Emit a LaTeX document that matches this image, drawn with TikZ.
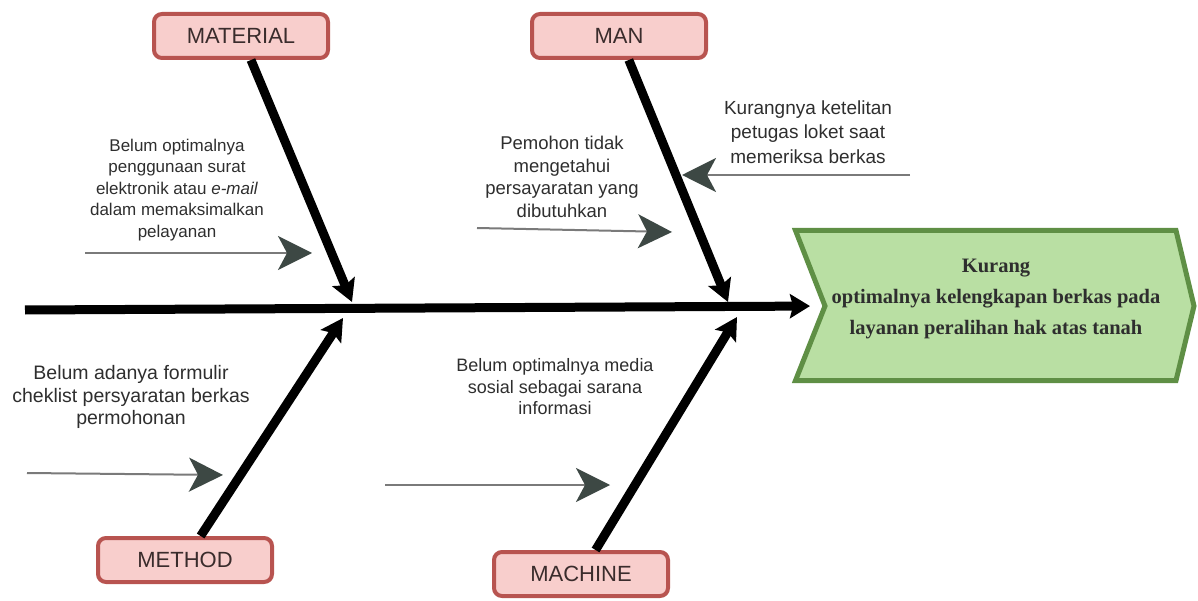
\documentclass[tikz,border=0pt]{standalone}
\usepackage{fontspec}
\setmainfont{Liberation Sans}
\newfontfamily\effectfont{Liberation Serif}
\usepackage{tikz}
\usetikzlibrary{arrows.meta,positioning}
\definecolor{ink}{HTML}{2E2E2E}
\definecolor{catink}{HTML}{3A2C2C}
\definecolor{catfill}{HTML}{F8CECC}
\definecolor{catdraw}{HTML}{B85450}
\definecolor{efffill}{HTML}{B9DFA3}
\definecolor{effdraw}{HTML}{5F8F45}
\definecolor{headc}{HTML}{3D4844}
\definecolor{tailc}{HTML}{7A7A7A}
\tikzset{
  cat/.style={draw=catdraw,fill=catfill,rounded corners=8pt,line width=4pt,
    minimum width=174pt,minimum height=44pt,text=catink,
    font=\fontsize{22}{26}\selectfont},
  note/.style={align=center,text=ink,font=\fontsize{18.5}{22.5}\selectfont},
  effbox/.style={draw=effdraw,fill=efffill,line width=5pt,line join=miter},
  efftxt/.style={align=center,text=ink,font=\effectfont\bfseries\fontsize{20.5}{31}\selectfont},
  spine/.style={line width=9pt,-{Stealth[length=20pt,width=24pt,inset=3pt]}},
  bone/.style={line width=9pt,-{Stealth[length=22pt,width=24pt,inset=4pt]}},
  cause/.style={line width=2pt,draw=tailc,-{Stealth[length=34pt,width=34pt,inset=9pt,color=headc]}}
}
\begin{document}
\begin{tikzpicture}[x=1pt,y=-1pt]
  \useasboundingbox (0,0) rectangle (1198,601);
  % effect head
  \coordinate (notch) at (825,306);
  \draw[effbox] (795.5,230.5) -- (1176,230.5) -- (1194,306) -- (1176,380.5)
    -- (795.5,380.5) -- (notch) -- cycle;
  \node[efftxt] (eff) at (996,299) {Kurang\\optimalnya kelengkapan berkas pada\\layanan peralihan hak atas tanah};
  % spine
  \coordinate (tail) at (25,310);
  \draw[spine,shorten >=15pt] (tail) -- (notch);
  % categories
  \node[cat] (mat)  at (241,36)  {MATERIAL};
  \node[cat] (man)  at (619,36)  {MAN};
  \node[cat] (meth) at (185,560) {METHOD};
  \node[cat] (mach) at (581,574) {MACHINE};
  \coordinate (matTip)  at (352,302);
  \coordinate (manTip)  at (728,302);
  \coordinate (methTip) at (343,318);
  \coordinate (machTip) at (737,317);
  \foreach \a/\b in {mat/matTip,man/manTip,meth/methTip,mach/machTip}{%
    \draw[bone] (\a) -- (\b);}
  % causes
  \node[note,font=\fontsize{17}{21.5}\selectfont] (nmat) at (177,190)
    {Belum optimalnya\\penggunaan surat\\elektronik atau \textit{e-mail}\\dalam memaksimalkan\\pelayanan};
  \node[note] (nman)  at (562,177) {Pemohon tidak\\mengetahui\\persayaratan yang\\dibutuhkan};
  \node[note,font=\fontsize{19}{24.5}\selectfont] (nman2) at (808,132) {Kurangnya ketelitan\\petugas loket saat\\memeriksa berkas};
  \node[note,font=\fontsize{19.5}{22.5}\selectfont] (nmeth) at (131,397) {Belum adanya formulir\\cheklist persyaratan berkas\\permohonan};
  \node[note,font=\fontsize{18}{21.5}\selectfont] (nmach) at (555,387) {Belum optimalnya media\\sosial sebagai sarana\\informasi};
  \coordinate (matA)  at (85,253);   \coordinate (matB)  at (312,253);
  \coordinate (manA)  at (477,228);  \coordinate (manB)  at (672,232);
  \coordinate (man2A) at (910,175);  \coordinate (man2B) at (682,175);
  \coordinate (methA) at (27,473);   \coordinate (methB) at (223,475);
  \coordinate (machA) at (385,485);  \coordinate (machB) at (610,485);
  \foreach \a/\b in {matA/matB,manA/manB,man2A/man2B,methA/methB,machA/machB}{%
    \draw[cause] (\a) -- (\b);}
\end{tikzpicture}
\end{document}
